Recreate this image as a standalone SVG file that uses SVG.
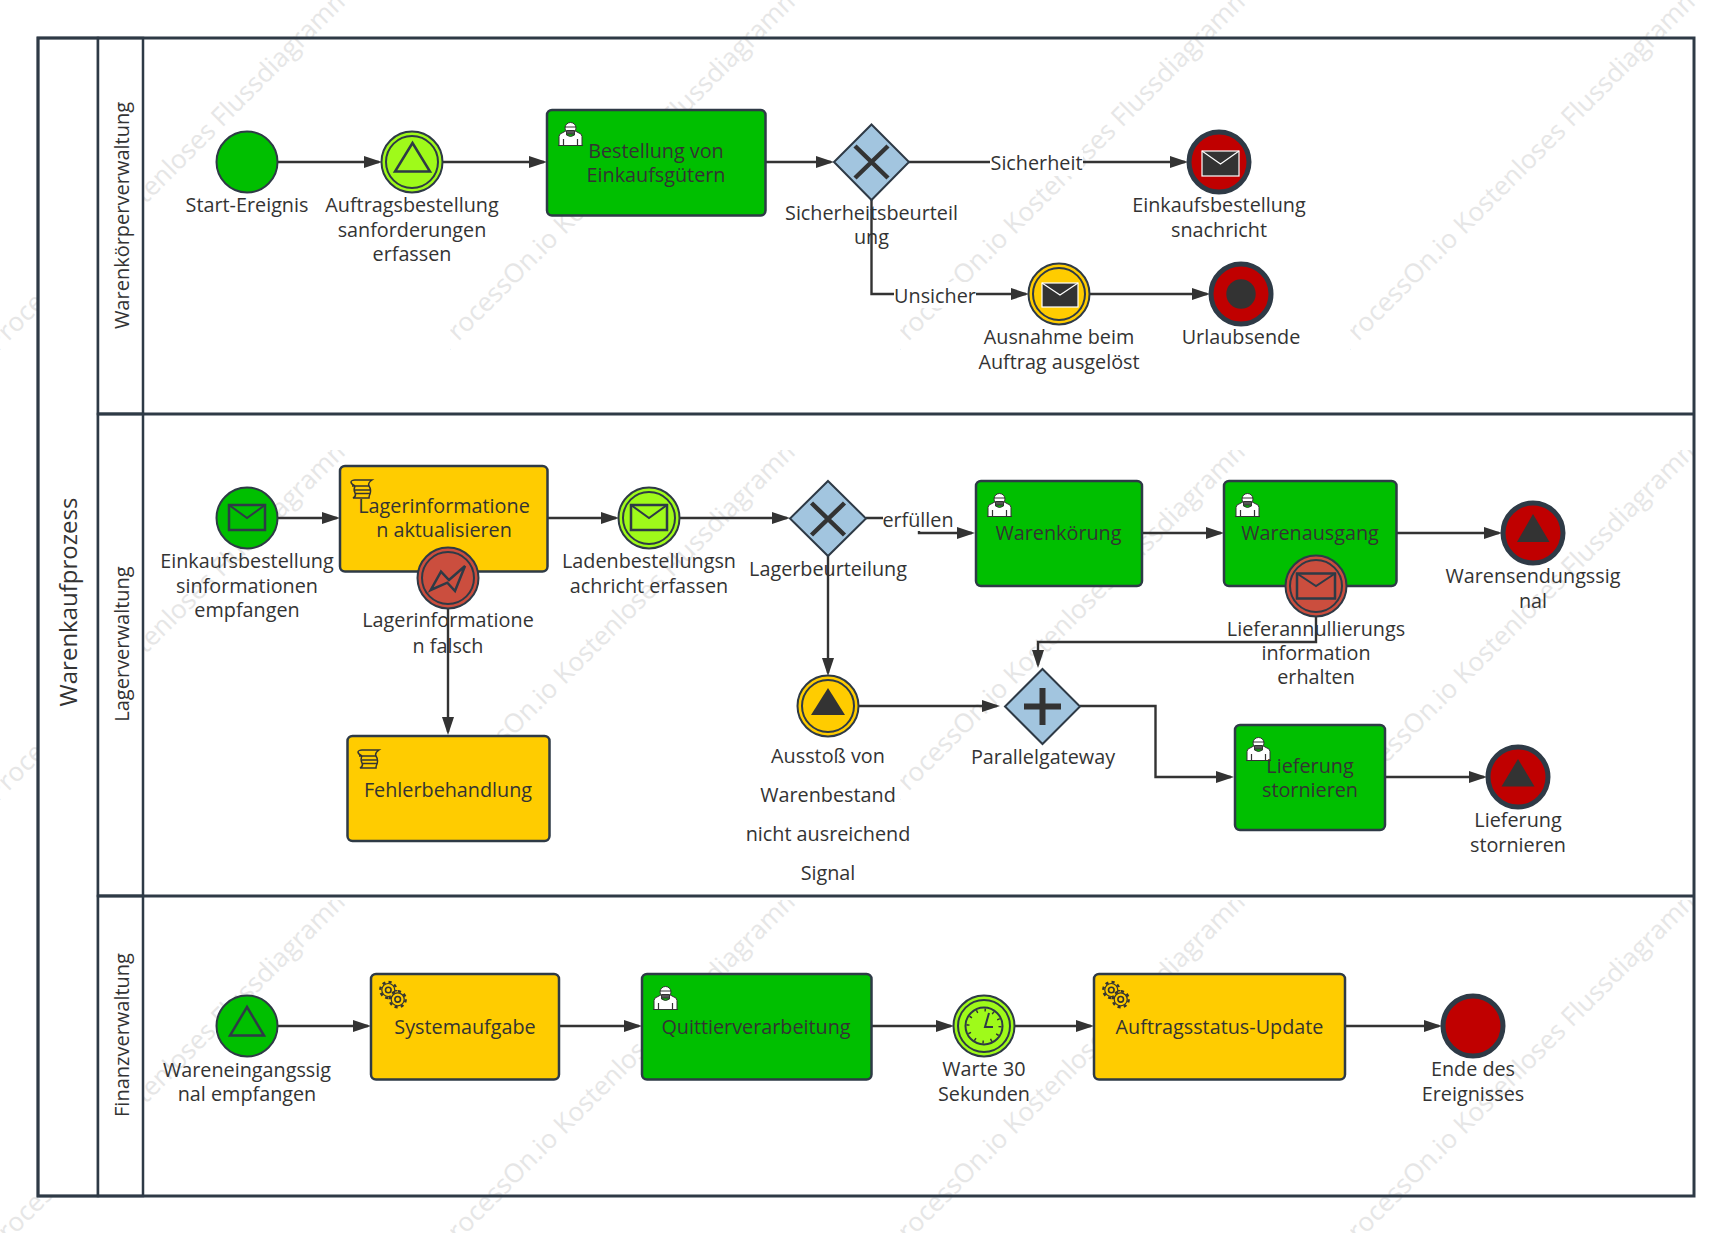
<svg xmlns="http://www.w3.org/2000/svg" xmlns:xlink="http://www.w3.org/1999/xlink" width="1731" height="1233" viewBox="0 0 1731 1233">
<style>
text{font-family:"Open Sans","Noto Sans",sans-serif;font-size:19.8px;fill:#333;text-anchor:middle}
.wm{font-size:26px;fill:#e6e6e6}
.swim{fill:none;stroke:#2e3a46;stroke-width:3}
.head{fill:#fff;stroke:#2e3a46;stroke-width:2.5}
.c{fill:none;stroke:#333;stroke-width:2.4;marker-end:url(#arrow)}
.g{fill:#00bf00}.y{fill:#ffcc00}.l{fill:#9ffa1a}.r{fill:#c00000}.b{fill:#cb4e3e}.d{fill:#333}
.task{stroke:#2e3a46;stroke-width:2.5}
.ev{stroke:#2e3a46;stroke-width:2}
.end{stroke:#2e3a46;stroke-width:5}
.gw{fill:#a2c5df;stroke:#2e3a46;stroke-width:2}
.mark{fill:none;stroke:#333;stroke-width:4.5}
.line{fill:none;stroke:#2e3a46;stroke-width:2}
.env{fill:#333;stroke:#fff;stroke-width:1.2}
.lab{fill:#fff}
</style>
<defs>
<marker id="arrow" markerUnits="userSpaceOnUse" markerWidth="18" markerHeight="12" refX="15" refY="6" orient="auto"><path d="M0 0L18 6L0 12Z" fill="#333"/></marker>
<clipPath id="wc"><rect width="350" height="350"/></clipPath>
<g id="wm" clip-path="url(#wc)"><text class="wm" transform="translate(175 175) rotate(-45)">ProcessOn.io Kostenloses Flussdiagramm</text></g>
<g id="user">
<path d="M1 23.5V14.5Q1 11.5 5 10.500L8.500 8.500V13Q12.500 16 16.500 13V8.500L20 10.500Q24 11.500 24 14.500V23.500Z" fill="#fff" stroke="#333"/>
<circle cx="12.500" cy="6" r="5.500" fill="#fff" stroke="#333"/>
<path d="M7 5H18M8.500 8.500H16.500V12H8.500Z" fill="#555" stroke="#333"/>
<path d="M0 23.500H25M5.500 17V23M19.500 17V23" fill="none" stroke="#333" stroke-width="1.200"/>
</g>
<g id="scroll"><path d="M4 1H21C18 3 17 5 18 7C20 10 20 12 19 15C18 17 18 18 18 19H2C4 18 5 16 4 14C3 12 3 9 4 7C2 6 0 5 0 3C0 2 2 1 4 1ZM1 7H18M4 11H20M4 14.500H19" fill="none" stroke="#333" stroke-width="1.500"/></g>
<g id="gear"><circle r="8" fill="#ffcc00" stroke="#333" stroke-width="2.400" stroke-dasharray="3.100 3.180"/><circle r="6.500" fill="#ffcc00" stroke="#333" stroke-width="1.200"/><circle r="2.800" fill="none" stroke="#333" stroke-width="1.600"/></g>
<g id="gears"><use xlink:href="#gear" href="#gear" x="9.300" y="9"/><use xlink:href="#gear" href="#gear" x="18.700" y="18.300"/></g>
</defs>

<g id="watermark">
<use href="#wm" x="0" y="0"/><use href="#wm" x="450" y="0"/><use href="#wm" x="900" y="0"/><use href="#wm" x="1350" y="0"/>
<use href="#wm" x="0" y="450"/><use href="#wm" x="450" y="450"/><use href="#wm" x="900" y="450"/><use href="#wm" x="1350" y="450"/>
<use href="#wm" x="0" y="900"/><use href="#wm" x="450" y="900"/><use href="#wm" x="900" y="900"/><use href="#wm" x="1350" y="900"/>
</g>

<g id="pool">
<rect class="head" x="38" y="38" width="60" height="1158"/>
<rect class="head" x="98" y="38" width="45" height="376"/>
<rect class="head" x="98" y="414" width="45" height="482"/>
<rect class="head" x="98" y="896" width="45" height="300"/>
<rect class="swim" x="38" y="38" width="1656" height="1158"/>
<path class="swim" d="M98 414H1694M98 896H1694"/>
<text style="font-size:24px" transform="translate(77 602) rotate(-90)">Warenkaufprozess</text>
<text style="font-size:20px" transform="translate(129 215.500) rotate(-90)">Warenkörperverwaltung</text>
<text style="font-size:20px" transform="translate(129 644) rotate(-90)">Lagerverwaltung</text>
<text style="font-size:20px" transform="translate(129 1035) rotate(-90)">Finanzverwaltung</text>
</g>

<g id="connectors">
<path class="c" d="M278 162H379"/>
<path class="c" d="M443 162H544"/>
<path class="c" d="M766 162H831"/>
<path class="c" d="M909 162H1185"/>
<rect class="lab" x="990" y="150" width="93" height="26"/>
<text x="1036.500" y="170">Sicherheit</text>
<path class="c" d="M871.500 200V294H1026"/>
<rect class="lab" x="894" y="282" width="82" height="26"/>
<text x="935" y="303">Unsicher</text>
<path class="c" d="M1090 294H1207"/>
<path class="c" d="M278 518H337"/>
<path class="c" d="M548 518H616"/>
<path class="c" d="M680 518H787"/>
<path class="c" d="M866 518H919V533H972"/>
<rect class="lab" x="883" y="506" width="70" height="25"/>
<text x="918" y="527">erfüllen</text>
<path class="c" d="M1143 533H1221"/>
<path class="c" d="M1397 533H1499"/>
<path class="c" d="M448 608V732"/>
<path class="c" d="M828 556V673"/>
<path class="c" d="M859 706H997"/>
<path class="c" d="M1316 617V642H1038V665"/>
<path class="c" d="M1080 706H1155.500V777H1231"/>
<path class="c" d="M1386 777H1484"/>
<path class="c" d="M278 1026H368"/>
<path class="c" d="M560 1026H639"/>
<path class="c" d="M872 1026H951"/>
<path class="c" d="M1015 1026H1091"/>
<path class="c" d="M1346 1026H1439"/>
</g>

<g id="n-start"><circle class="g ev" cx="247" cy="162" r="30.500"/><text x="247" y="212">Start-Ereignis</text></g>

<g id="n-auftragsbestellung"><circle class="l ev" cx="412" cy="162" r="30.500"/><circle class="l ev" cx="412" cy="162" r="26"/><path class="line" style="stroke-width:2.500" d="M412.500 143L430 171.500H395Z"/>
<text x="412" y="212">Auftragsbestellung</text><text x="412" y="237">sanforderungen</text><text x="412" y="261">erfassen</text></g>

<g id="n-bestellung"><rect class="g task" x="547" y="110" width="218.500" height="105.500" rx="5"/><use href="#user" x="558" y="122"/><text x="656" y="158">Bestellung von</text><text x="656" y="182">Einkaufsgütern</text></g>

<g id="n-sicherheit"><path class="gw" d="M871.500 124.500L909 162L871.500 200L834 162Z"/><path class="mark" d="M855 146L888 178M888 146L855 178"/><text x="871.500" y="220">Sicherheitsbeurteil</text><text x="871.500" y="244">ung</text></g>

<g id="n-einkaufsnachricht"><circle class="r end" cx="1219" cy="162" r="30"/><rect class="env" x="1202" y="151" width="37" height="25"/><path d="M1202 151L1220.500 164L1239 151" fill="none" stroke="#fff" stroke-width="1.200"/><text x="1219" y="212">Einkaufsbestellung</text><text x="1219" y="237">snachricht</text></g>

<g id="n-ausnahme"><circle class="y ev" cx="1059" cy="294" r="30.500"/><circle class="y ev" cx="1059" cy="294" r="26"/><rect class="env" x="1042" y="283" width="36" height="24"/><path d="M1042 283L1060 295L1078 283" fill="none" stroke="#fff" stroke-width="1.200"/><text x="1059" y="344">Ausnahme beim</text><text x="1059" y="369">Auftrag ausgelöst</text></g>

<g id="n-urlaubsende"><circle class="r end" cx="1241" cy="294" r="30"/><circle class="d" cx="1241" cy="294" r="14.700"/><text x="1241" y="344">Urlaubsende</text></g>

<g id="n-einkauf-empfangen"><circle class="g ev" cx="247" cy="518" r="30.500"/><rect class="line" style="stroke-width:2.500" x="229" y="505" width="36" height="25"/><path class="line" d="M229 505L247 518L265 505"/><text x="247" y="568">Einkaufsbestellung</text><text x="247" y="593">sinformationen</text><text x="247" y="617">empfangen</text></g>

<g id="n-lager-aktualisieren"><rect class="y task" x="340" y="466" width="207.500" height="105.500" rx="5"/><use href="#scroll" x="351" y="479"/><text x="444" y="513">Lagerinformatione</text><text x="444" y="537">n aktualisieren</text></g>

<g id="n-lager-falsch"><circle class="b ev" cx="448" cy="578" r="30.500"/><circle class="b ev" cx="448" cy="578" r="26"/><path class="line" style="stroke-width:2.500" d="M430.700 590L441 571.700L449 580L465 566L455 591L447.300 582.700Z"/><text x="448" y="627">Lagerinformatione</text><text x="448" y="653">n falsch</text></g>

<g id="n-fehler"><rect class="y task" x="347.500" y="736" width="202" height="105" rx="5"/><use href="#scroll" x="358" y="749"/><text x="448" y="797">Fehlerbehandlung</text></g>

<g id="n-laden"><circle class="l ev" cx="649" cy="518" r="30.500"/><circle class="l ev" cx="649" cy="518" r="26"/><rect class="line" style="stroke-width:2.500" x="631" y="505" width="36" height="25"/><path class="line" d="M631 505L649 518L667 505"/><text x="649" y="568">Ladenbestellungsn</text><text x="649" y="593">achricht erfassen</text></g>

<g id="n-lagerbeurteilung"><path class="gw" d="M828 481L866 518.500L828 556L790 518.500Z"/><path class="mark" d="M811.500 503L844.500 535M844.500 503L811.500 535"/><text x="828" y="576">Lagerbeurteilung</text></g>

<g id="n-warenkoerung"><rect class="g task" x="976" y="481" width="166" height="105" rx="5"/><use href="#user" x="987" y="493"/><text x="1058.500" y="540">Warenkörung</text></g>

<g id="n-warenausgang"><rect class="g task" x="1224" y="481" width="172.500" height="105" rx="5"/><use href="#user" x="1235" y="493"/><text x="1310" y="540">Warenausgang</text></g>

<g id="n-warensendung"><circle class="r end" cx="1533" cy="533" r="30"/><path class="d" d="M1533 514L1549.500 542H1517Z"/><text x="1533" y="583">Warensendungssig</text><text x="1533" y="608">nal</text></g>

<g id="n-lieferannullierung"><circle class="b ev" cx="1316" cy="586" r="30.500"/><circle class="b ev" cx="1316" cy="586" r="26"/><rect class="line" style="stroke-width:2.500" x="1297" y="573.500" width="38" height="25"/><path class="line" d="M1297 573.500L1316 586L1335 573.500"/><text x="1316" y="636">Lieferannullierungs</text><text x="1316" y="660">information</text><text x="1316" y="684">erhalten</text></g>

<g id="n-ausstoss"><circle class="y ev" cx="828" cy="706" r="30.500"/><circle class="y ev" cx="828" cy="706" r="26"/><path class="d" d="M828 688L845 715H811Z"/><text x="828" y="763">Ausstoß von</text><text x="828" y="802">Warenbestand</text><text x="828" y="841">nicht ausreichend</text><text x="828" y="880">Signal</text></g>

<g id="n-parallel"><path class="gw" d="M1042.500 669L1080 706.500L1042.500 744L1005 706.500Z"/><path class="mark" style="stroke-width:6" d="M1042.500 688V725M1024 706.500H1061"/><text x="1043" y="764">Parallelgateway</text></g>

<g id="n-lieferung"><rect class="g task" x="1235" y="725" width="150" height="105" rx="5"/><use href="#user" x="1246" y="737"/><text x="1310" y="773">Lieferung</text><text x="1310" y="797">stornieren</text></g>

<g id="n-lieferung-end"><circle class="r end" cx="1518" cy="777" r="30"/><path class="d" d="M1518 759L1534.500 786.500H1501.500Z"/><text x="1518" y="827">Lieferung</text><text x="1518" y="852">stornieren</text></g>

<g id="n-wareneingang"><circle class="g ev" cx="247" cy="1026" r="30.500"/><path class="line" style="stroke-width:2.500" d="M247 1007L264 1035.500H230Z"/><text x="247" y="1077">Wareneingangssig</text><text x="247" y="1101">nal empfangen</text></g>

<g id="n-systemaufgabe"><rect class="y task" x="371" y="974" width="188" height="105.500" rx="5"/><use href="#gears" x="379" y="981"/><text x="465" y="1034">Systemaufgabe</text></g>

<g id="n-quittier"><rect class="g task" x="642" y="974" width="229.500" height="105.500" rx="5"/><use href="#user" x="653" y="986"/><text x="756" y="1034">Quittierverarbeitung</text></g>

<g id="n-warte"><circle class="l ev" cx="984" cy="1026" r="30.500"/><circle class="l ev" cx="984" cy="1026" r="26"/><circle class="l ev" cx="984" cy="1026" r="18.500"/><circle cx="984" cy="1026" r="16" fill="none" stroke="#333" stroke-width="3" stroke-dasharray="1.500 6.880"/><path class="line" d="M989 1013L985 1027H993"/><text x="984" y="1076">Warte 30</text><text x="984" y="1101">Sekunden</text></g>

<g id="n-auftragsstatus"><rect class="y task" x="1094" y="974" width="251" height="105.500" rx="5"/><use href="#gears" x="1102" y="981"/><text x="1219.500" y="1034">Auftragsstatus-Update</text></g>

<g id="n-ende"><circle class="r end" cx="1473" cy="1026" r="30"/><text x="1473" y="1076">Ende des</text><text x="1473" y="1101">Ereignisses</text></g>
</svg>
